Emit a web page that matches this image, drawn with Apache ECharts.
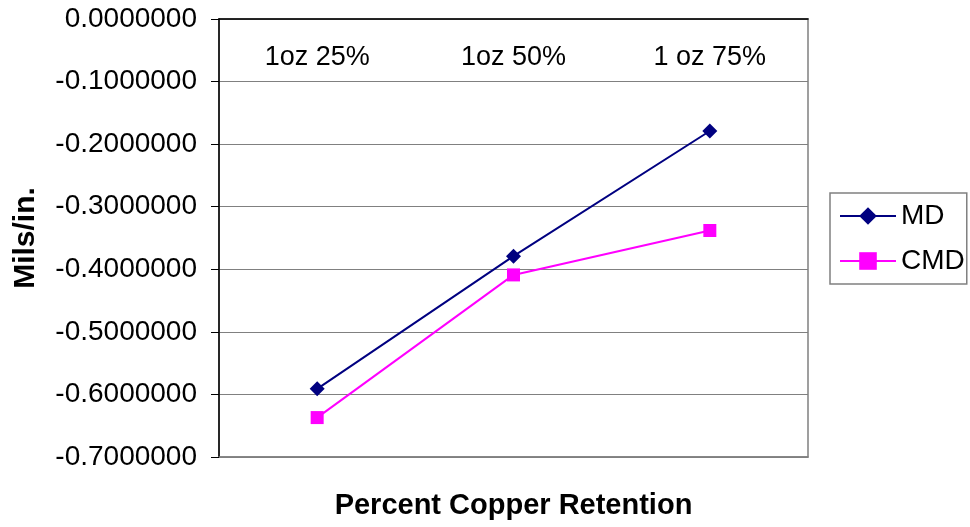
<!DOCTYPE html>
<html><head><meta charset="utf-8">
<script src="https://cdn.jsdelivr.net/npm/echarts@6/dist/echarts.min.js"></script>
<style>html,body{margin:0;padding:0;background:#fff}#c{width:970px;height:527px}</style>
</head><body><div id="c"></div>
<script>
const categories = ['1oz 25%', '1oz 50%', '1 oz 75%'];
const mdValues = [-0.591, -0.379, -0.179];
const cmdValues = [-0.637, -0.409, -0.338];
const yTicks = { min: -0.7, max: 0, interval: 0.1 };
const font = 'Liberation Sans, Arial, sans-serif';

const chart = echarts.init(document.getElementById('c'));
chart.setOption({
  animation: false,
  backgroundColor: '#fff',
  grid: { left: 219, right: 162, top: 19, bottom: 70, show: true, borderColor: '#808080', borderWidth: 1.5, containLabel: false, outerBoundsMode: 'none' },
  legend: {
    left: 830, top: 193, orient: 'vertical',
    data: ['MD', 'CMD'],
    borderColor: '#808080', borderWidth: 1.5,
    padding: [9, 2, 9, 9],
    itemGap: 17, itemWidth: 56, itemHeight: 22,
    textStyle: { fontFamily: font, fontSize: 28, color: '#000' }
  },
  xAxis: [{
    type: 'category', data: categories, position: 'top',
    axisLine: { onZero: false, lineStyle: { color: '#000', width: 1.5 } },
    axisTick: { show: false },
    axisLabel: { inside: true, margin: 25, fontFamily: font, fontSize: 27, color: '#000' }
  }, {
    type: 'category', data: categories, position: 'bottom',
    axisLine: { onZero: false, lineStyle: { color: '#808080', width: 1.5 } },
    axisTick: { show: false }, axisLabel: { show: false },
    name: 'Percent Copper Retention', nameLocation: 'middle', nameGap: 34,
    nameTextStyle: { fontFamily: font, fontSize: 29, fontWeight: 'bold', color: '#000' }
  }],
  yAxis: {
    type: 'value', min: yTicks.min, max: yTicks.max, interval: yTicks.interval,
    name: 'Mils/in.', nameLocation: 'middle', nameGap: 178, nameRotate: 90,
    nameTextStyle: { fontFamily: font, fontSize: 30, fontWeight: 'bold', color: '#000' },
    axisLine: { show: true, lineStyle: { color: '#000', width: 1.5 } },
    axisTick: { show: true, length: 8, lineStyle: { color: '#000' } },
    splitLine: { lineStyle: { color: '#808080', width: 1.2 } },
    axisLabel: { margin: 22, fontFamily: font, fontSize: 28, color: '#000', formatter: v => v.toFixed(7) }
  },
  series: [{
    name: 'MD', type: 'line', data: mdValues,
    symbol: 'diamond', symbolSize: 15,
    lineStyle: { color: '#000080', width: 2 }, itemStyle: { color: '#000080' }
  }, {
    name: 'CMD', type: 'line', data: cmdValues,
    symbol: 'rect', symbolSize: 13,
    lineStyle: { color: '#FF00FF', width: 2 }, itemStyle: { color: '#FF00FF' }
  }]
});
</script></body></html>
